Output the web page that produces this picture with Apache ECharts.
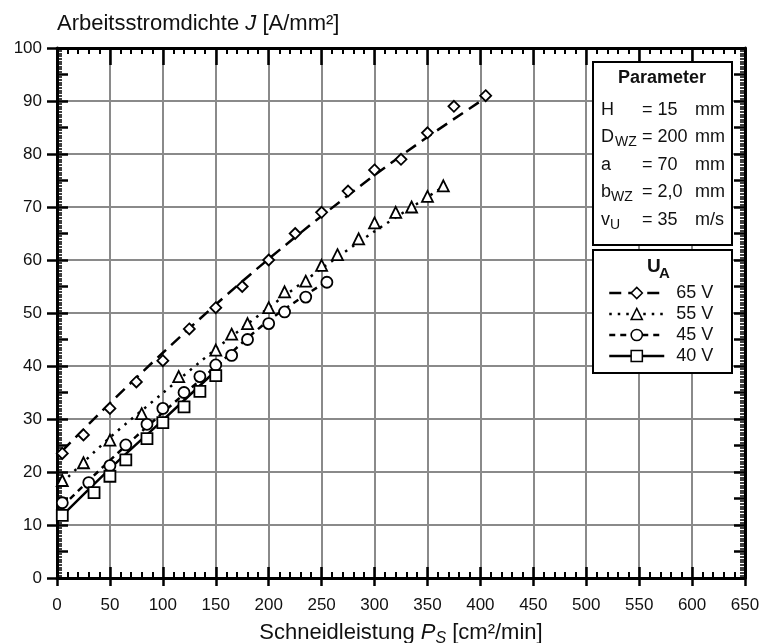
<!DOCTYPE html>
<html><head><meta charset="utf-8">
<script src="https://cdn.jsdelivr.net/npm/echarts@6/dist/echarts.min.js"></script>
<style>html,body{margin:0;padding:0;background:#fff}#c{width:764px;height:643px}</style>
</head><body><div id="c"></div>
<script>
// ---- axis settings ----
const xMin = 0, xMax = 650, xStep = 50;
const yMin = 0, yMax = 100, yStep = 10;

// ---- series names ----
const seriesNames = ['65 V', '55 V', '45 V', '40 V'];

const p65x = [5, 25, 50, 75, 100, 125, 150, 175, 200, 225, 250, 275, 300, 325, 350, 375, 405];
const p65y = [23.5, 27, 32, 37, 41, 47, 51, 55, 60, 65, 69, 73, 77, 79, 84, 89, 91];

const p55x = [5, 25, 50, 80, 115, 150, 165, 180, 200, 215, 235, 250, 265, 285, 300, 320, 335, 350, 365];
const p55y = [18.4, 21.75, 26, 31, 38, 43, 46, 48, 51, 54, 56, 59, 61, 64, 67, 69, 70, 72, 74];

const p45x = [5, 30, 50, 65, 85, 100, 120, 135, 150, 165, 180, 200, 215, 235, 255];
const p45y = [14.2, 18, 21.2, 25.1, 29, 32, 35, 38, 40.2, 42, 45, 48, 50.2, 53, 55.8];

const p40x = [5, 35, 50, 65, 85, 100, 120, 135, 150];
const p40y = [11.8, 16.1, 19.2, 22.3, 26.3, 29.3, 32.3, 35.2, 38.2];

// ---- fitted curves ----
const fit65x = [5, 50, 100, 150, 200, 250, 300, 350, 405];
const fit65y = [24, 33, 42.5, 51.6, 60.2, 68.3, 76, 83.2, 90.6];
const fit55x = [5, 50, 100, 150, 200, 250, 300, 365];
const fit55y = [18, 26.5, 34.9, 43.2, 51, 58.4, 65.4, 73.8];
const fit45x = [5, 50, 100, 150, 200, 255];
const fit45y = [13.5, 22.2, 31.2, 39.9, 48.6, 56];
const fit40x = [5, 50, 100, 150];
const fit40y = [11.8, 20.6, 29.8, 39.1];

const FF = '"Liberation Sans", Arial, sans-serif';
const zip = (a, b) => a.map((v, i) => [v, b[i]]);

const ptsX = [p65x, p55x, p45x, p40x];
const ptsY = [p65y, p55y, p45y, p40y];
const fitX = [fit65x, fit55x, fit45x, fit40x];
const fitY = [fit65y, fit55y, fit45y, fit40y];
const symbols = ['diamond', 'triangle', 'circle', 'rect'];
const symSizes = [11, 11, 11, 11];
const dashes = [[12, 7], [2.5, 6], [6, 5], 'solid'];

const series = [];
seriesNames.forEach((nm, k) => {
  series.push({
    name: nm, type: 'line', data: zip(fitX[k], fitY[k]), smooth: 0.3,
    symbol: symbols[k], showSymbol: false, symbolSize: symSizes[k],
    lineStyle: { color: '#000', width: 2.5, type: dashes[k] },
    itemStyle: { color: '#000' }, z: 3, silent: true
  });
});
seriesNames.forEach((nm, k) => {
  series.push({
    name: nm, type: 'scatter', data: zip(ptsX[k], ptsY[k]),
    symbol: symbols[k], symbolSize: symSizes[k],
    itemStyle: { color: '#fff', borderColor: '#000', borderWidth: 1.8, opacity: 1 },
    z: 4, silent: true
  });
});

const gridColor = '#8a8a8a';
const base = { min: xMin, max: xMax, interval: xStep, type: 'value' };
const ybase = { min: yMin, max: yMax, type: 'value' };
const blackLine = { show: true, onZero: false, lineStyle: { color: '#000', width: 3 } };

const option = {
  animation: false,
  backgroundColor: '#fff',
  grid: { left: 57, right: 19, top: 48, bottom: 65, outerBoundsMode: 'none', containLabel: false },
  xAxis: [
    Object.assign({}, base, {
      position: 'bottom',
      axisLine: blackLine,
      axisTick: { show: true, inside: false, length: 8, lineStyle: { color: '#000', width: 2.5 } },
      axisLabel: { fontSize: 17, fontFamily: FF, color: '#111', margin: 19 },
      splitLine: { show: true, lineStyle: { color: gridColor, width: 2 } },
      name: 'Schneidleistung {i|P}{s|S} [cm²/min]',
      nameLocation: 'middle', nameGap: 41,
      nameTextStyle: {
        fontSize: 22, fontFamily: FF, color: '#111', lineHeight: 28,
        rich: {
          i: { fontSize: 22, fontStyle: 'italic', fontFamily: FF, color: '#111' },
          s: { fontSize: 16, fontStyle: 'italic', fontFamily: FF, color: '#111', verticalAlign: 'bottom', lineHeight: 16, padding: [10, 0, 0, 0] }
        }
      }
    }),
    Object.assign({}, base, {
      position: 'bottom',
      axisLine: { show: false },
      axisTick: { show: true, inside: true, length: 11, lineStyle: { color: '#000', width: 2.5 } },
      minorTick: { show: true, splitNumber: 5, length: 6, lineStyle: { color: '#000', width: 2 } },
      axisLabel: { show: false }, splitLine: { show: false }
    }),
    Object.assign({}, base, {
      position: 'top',
      axisLine: blackLine,
      axisTick: { show: true, inside: true, length: 17, lineStyle: { color: '#000', width: 2.5 } },
      minorTick: { show: true, splitNumber: 5, length: 6, lineStyle: { color: '#000', width: 2 } },
      axisLabel: { show: false }, splitLine: { show: false }
    })
  ],
  yAxis: [
    Object.assign({}, ybase, {
      interval: yStep, position: 'left',
      axisLine: blackLine,
      axisTick: { show: true, inside: false, length: 10, lineStyle: { color: '#000', width: 2.5 } },
      axisLabel: { fontSize: 17, fontFamily: FF, color: '#111', margin: 15 },
      splitLine: { show: true, lineStyle: { color: gridColor, width: 2 } },
      name: 'Arbeitsstromdichte {i|J} [A/mm²]',
      nameLocation: 'end', nameGap: 24,
      nameTextStyle: {
        fontSize: 22, fontFamily: FF, color: '#111', align: 'left', verticalAlign: 'middle',
        rich: { i: { fontSize: 22, fontStyle: 'italic', fontFamily: FF, color: '#111' } }
      }
    }),
    Object.assign({}, ybase, {
      interval: 5, position: 'left',
      axisLine: { show: false },
      axisTick: { show: true, inside: true, length: 11, lineStyle: { color: '#000', width: 2.5 } },
      minorTick: { show: true, splitNumber: 10, length: 5, lineStyle: { color: '#000', width: 1.5 } },
      axisLabel: { show: false }, splitLine: { show: false }
    }),
    Object.assign({}, ybase, {
      interval: 5, position: 'right',
      axisLine: blackLine,
      axisTick: { show: true, inside: true, length: 11, lineStyle: { color: '#000', width: 2.5 } },
      minorTick: { show: true, splitNumber: 10, length: 5, lineStyle: { color: '#000', width: 1.5 } },
      axisLabel: { show: false }, splitLine: { show: false }
    })
  ],
  legend: {
    data: seriesNames, orient: 'vertical', left: 608, top: 284,
    itemWidth: 55, itemHeight: 14, itemGap: 3, padding: 0, z: 150,
    selectedMode: false,
    textStyle: { fontSize: 18, fontFamily: FF, color: '#111', padding: [0, 0, 0, 7] },
    itemStyle: { color: '#fff', borderColor: '#000', borderWidth: 1.5 },
    lineStyle: { color: '#000', width: 2.5 }
  },
  graphic: { elements: [] },
  series: series
};

// ---- parameter box & legend frame (text annotations) ----
const G = option.graphic.elements;
const txt = (x, y, s, size, bold, align) => ({
  type: 'text', x: x, y: y, z: 110,
  style: { text: s, font: (bold ? 'bold ' : '') + size + 'px ' + FF, fill: '#111', align: align || 'left', verticalAlign: 'middle' }
});
G.push({ type: 'rect', shape: { x: 593, y: 62, width: 139, height: 183 }, z: 100, style: { fill: '#fff', stroke: '#000', lineWidth: 2 } });
G.push({ type: 'rect', shape: { x: 593, y: 250, width: 139, height: 123 }, z: 100, style: { fill: '#fff', stroke: '#000', lineWidth: 2 } });
G.push(txt(662, 78, 'Parameter', 18, true, 'center'));
const rows = [
  ['H', '', 14, '= 15', 'mm', 110],
  ['D', 'WZ', 14, '= 200', 'mm', 137.5],
  ['a', '', 10, '= 70', 'mm', 165],
  ['b', 'WZ', 10, '= 2,0', 'mm', 192.5],
  ['v', 'U', 9, '= 35', 'm/s', 220]
];
rows.forEach(r => {
  G.push(txt(601, r[5], r[0], 18, false));
  if (r[1]) G.push(txt(601 + r[2], r[5] + 5, r[1], 14, false));
  G.push(txt(642, r[5], r[3], 18, false));
  G.push(txt(695, r[5], r[4], 18, false));
});
G.push(txt(647, 267, 'U', 19, true));
G.push(txt(659, 274, 'A', 15, true));

const chart = echarts.init(document.getElementById('c'), null, { renderer: 'canvas' });
chart.setOption(option);
</script>
</body></html>
